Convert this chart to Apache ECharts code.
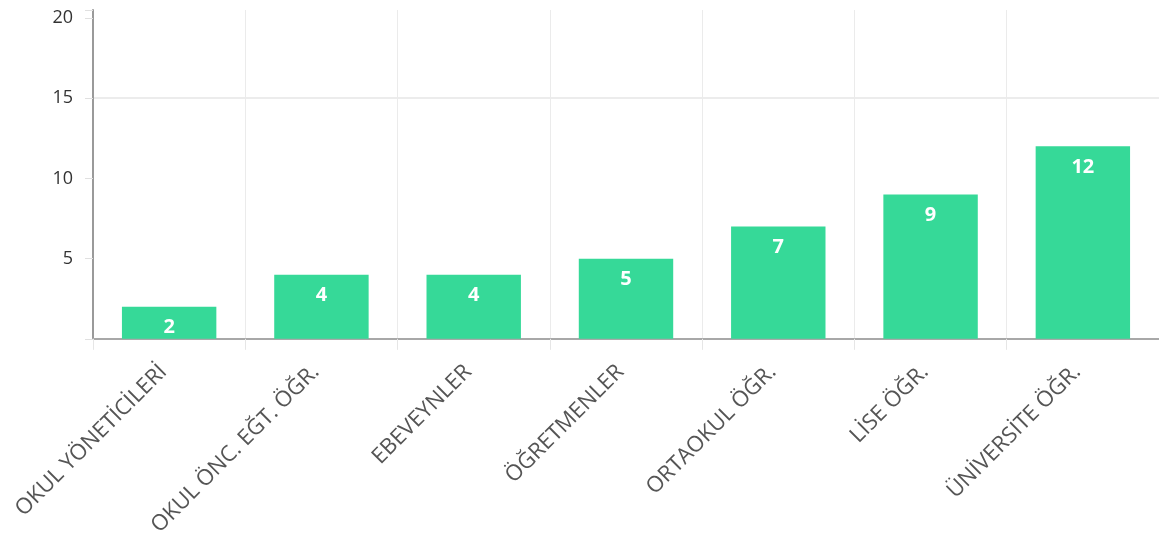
<!DOCTYPE html>
<html>
<head>
<meta charset="utf-8">
<script src="https://cdn.jsdelivr.net/npm/echarts@6/dist/echarts.min.js"></script>
<style>
  html, body { margin: 0; padding: 0; background: #fff; }
  #chart { width: 1159px; height: 539px; }
</style>
</head>
<body>
<div id="chart"></div>
<script>
const categories = ['OKUL YÖNETİCİLERİ', 'OKUL ÖNC. EĞT. ÖĞR.', 'EBEVEYNLER', 'ÖĞRETMENLER', 'ORTAOKUL ÖĞR.', 'LİSE ÖĞR.', 'ÜNİVERSİTE ÖĞR.'];
const values = [2, 4, 4, 5, 7, 9, 12];
const yTickLabels = [5, 10, 15, 20];

const chart = echarts.init(document.getElementById('chart'));
chart.setOption({
  animation: false,
  textStyle: { fontFamily: 'Open Sans' },
  grid: { left: 93, top: 10, width: 1068, height: 330, containLabel: false },
  xAxis: {
    type: 'category',
    data: categories,
    boundaryGap: true,
    axisLine: { show: true, lineStyle: { color: '#a8a8a8', width: 2 } },
    axisTick: { show: true, length: 11, lineStyle: { color: '#e6e6e6', width: 1 } },
    splitLine: { show: true, lineStyle: { color: '#ebebeb', width: 1 } },
    axisLabel: {
      rotate: 45,
      interval: 0,
      margin: 24,
      padding: [0, 8, 0, 0],
      fontSize: 22,
      color: '#555',
      fontFamily: 'Open Sans'
    }
  },
  yAxis: {
    type: 'value',
    min: 0,
    max: 20.5,
    interval: 5,
    axisLine: { show: true, lineStyle: { color: '#9a9a9a', width: 2 } },
    axisTick: { show: true, length: 8, lineStyle: { color: '#e0e0e0', width: 1 } },
    splitLine: {
      show: true,
      lineStyle: { color: ['rgba(0,0,0,0)', 'rgba(0,0,0,0)', 'rgba(0,0,0,0)', '#ececec', 'rgba(0,0,0,0)', 'rgba(0,0,0,0)'], width: 2 }
    },
    axisLabel: {
      margin: 20,
      fontSize: 18,
      color: '#333',
      fontFamily: 'Open Sans',
      formatter: function (v) { return yTickLabels.indexOf(v) >= 0 ? String(v) : ''; }
    }
  },
  series: [{
    type: 'bar',
    data: values,
    barCategoryGap: '38%',
    itemStyle: { color: '#36d998' },
    label: {
      show: true,
      position: 'insideTop',
      distance: 11,
      color: '#fff',
      fontWeight: 'bold',
      fontSize: 20,
      fontFamily: 'Open Sans'
    }
  }]
});
</script>
</body>
</html>
